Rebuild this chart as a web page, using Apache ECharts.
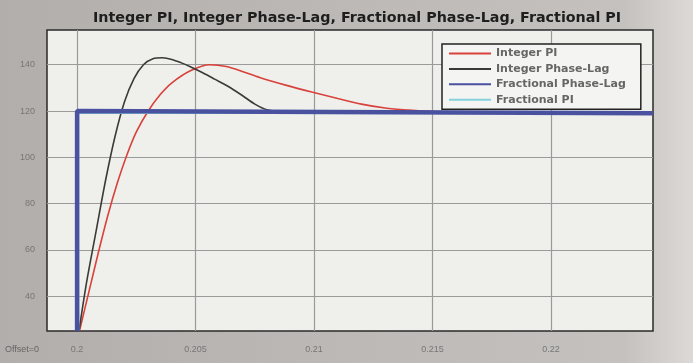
<!DOCTYPE html>
<html>
<head>
<meta charset="utf-8">
<script src="https://cdn.jsdelivr.net/npm/echarts@6/dist/echarts.min.js"></script>
<style>
  html, body { margin: 0; padding: 0; }
  #chart { width: 693px; height: 363px; }
</style>
</head>
<body>
<div id="chart"></div>
<script>
const titleText = 'Integer PI, Integer Phase-Lag, Fractional Phase-Lag, Fractional PI'
const seriesNames = ['Integer PI', 'Integer Phase-Lag', 'Fractional Phase-Lag', 'Fractional PI']
const xTicks = [0.2, 0.205, 0.21, 0.215, 0.22]
const yTicks = [40, 60, 80, 100, 120, 140]

// time / value pairs
const intPiT = [0.2001, 0.2005, 0.2009, 0.2013, 0.2017, 0.2021, 0.2025, 0.203, 0.2035, 0.204, 0.2048, 0.2056, 0.2063, 0.207, 0.2077, 0.2088, 0.2099, 0.211, 0.212, 0.213, 0.214, 0.215, 0.2243]
const intPiV = [25, 42, 59, 75, 89, 101, 111, 120, 127, 132.2, 137.5, 140, 139.2, 137, 134.5, 131.2, 128.2, 125.4, 123, 121.3, 120.4, 119.8, 119.3]

const intLagT = [0.20008, 0.2004, 0.2008, 0.2012, 0.2016, 0.202, 0.2024, 0.2028, 0.2032, 0.2036, 0.204, 0.2044, 0.2048, 0.2053, 0.2058, 0.2064, 0.207, 0.2075, 0.208, 0.2088, 0.2243]
const intLagV = [25, 46, 68, 90, 109, 124, 134, 140, 142.6, 143, 142.3, 140.8, 139, 136.5, 133.8, 130.5, 126.5, 123, 120.6, 119.5, 119.3]

const fracLagT = [0.2, 0.2, 0.2243]
const fracLagV = [25, 120, 119]

const fracPiT = [0.20006, 0.20006, 0.2243]
const fracPiV = [25, 119.2, 118.8]

const zip = (t, v) => t.map((x, i) => [x, v[i]])

const chart = echarts.init(document.getElementById('chart'))
chart.setOption({
  animation: false,
  backgroundColor: {
    type: 'linear', x: 0, y: 0, x2: 1, y2: 0,
    colorStops: [{ offset: 0, color: '#b2aeac' }, { offset: 0.9, color: '#c4c1bf' }, { offset: 1, color: '#dcd9d6' }]
  },
  title: {
    text: titleText, left: 352, textAlign: 'center', top: 6,
    textStyle: { fontFamily: 'DejaVu Sans', fontWeight: 'bold', fontSize: 14.3, color: '#1e1e1e' }
  },
  legend: {
    orient: 'vertical', left: 442, top: 44,
    itemWidth: 42, itemHeight: 10, itemGap: 4.4, padding: [4, 15, 4, 6],
    backgroundColor: '#f4f4f2', borderColor: '#222', borderWidth: 1.5,
    itemStyle: { opacity: 0 },
    textStyle: { fontFamily: 'DejaVu Sans', fontWeight: 'bold', fontSize: 11, lineHeight: 10, color: '#666' },
    data: seriesNames
  },
  graphic: [{
    type: 'text', left: 5, top: 345,
    style: { text: 'Offset=0', fontFamily: 'Liberation Sans', fontSize: 9, fill: '#666' }
  }],
  grid: {
    left: 47, right: 40, top: 30, bottom: 32, show: true,
    backgroundColor: '#efefec', borderColor: '#2a2a2a', borderWidth: 1.5
  },
  xAxis: {
    type: 'value', min: 0.19873, max: 0.2243,
    axisLine: { show: false },
    axisTick: { show: false, customValues: xTicks },
    axisLabel: { customValues: xTicks, margin: 14, fontSize: 9, color: '#777', fontFamily: 'Liberation Sans', formatter: v => String(+v.toFixed(3)) },
    splitLine: { show: true, lineStyle: { color: '#9a9a9a', width: 1.2 } }
  },
  yAxis: {
    type: 'value', min: 25, max: 155,
    axisLine: { show: false },
    axisTick: { show: false, customValues: yTicks },
    axisLabel: { customValues: yTicks, margin: 12, fontSize: 9, color: '#777', fontFamily: 'Liberation Sans' },
    splitLine: { show: true, lineStyle: { color: '#9a9a9a', width: 1.2 } }
  },
  series: [
    { name: seriesNames[0], type: 'line', data: zip(intPiT, intPiV), smooth: 0.3, symbol: 'none', z: 3, color: '#d8423a', lineStyle: { width: 1.6 } },
    { name: seriesNames[1], type: 'line', data: zip(intLagT, intLagV), smooth: 0.3, symbol: 'none', z: 3, color: '#3a3a36', lineStyle: { width: 1.6 } },
    { name: seriesNames[2], type: 'line', data: zip(fracLagT, fracLagV), symbol: 'none', z: 5, color: '#4a52a0', lineStyle: { width: 4.5 } },
    { name: seriesNames[3], type: 'line', data: zip(fracPiT, fracPiV), symbol: 'none', z: 4, color: '#86d2dc', lineStyle: { width: 1.6 } }
  ]
})
</script>
</body>
</html>
